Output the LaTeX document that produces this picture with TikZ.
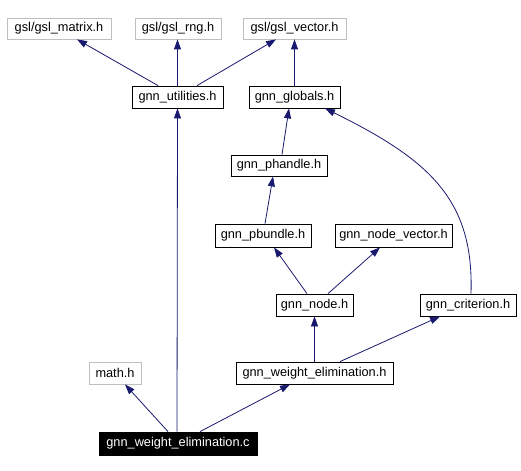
\documentclass[tikz,border=0pt]{standalone}
\usepackage{fontspec}
\setmainfont{Liberation Sans}
\usetikzlibrary{arrows.meta}
\definecolor{edgeblue}{RGB}{25,25,112}
\definecolor{extgray}{RGB}{191,191,191}
\begin{document}
\begin{tikzpicture}[x=1bp,y=-1bp,
  box/.style={draw=black,line width=0.8bp,inner sep=0pt,minimum height=22bp,font=\fontsize{12.8}{14}\selectfont,fill=white},
  ext/.style={box,draw=extgray},
  cur/.style={box,fill=black,text=white},
  dep/.style={draw=edgeblue,line width=0.8bp,-{Triangle[length=10bp,width=7bp]}}]
\useasboundingbox[fill=white] (0,0) rectangle (521,471);
\node[ext,minimum width=104bp,minimum height=21bp] (matrix) at (59,28.5) {gsl/gsl\_matrix.h};
\node[ext,minimum width=86bp,minimum height=21bp] (rng) at (178,28.5) {gsl/gsl\_rng.h};
\node[ext,minimum width=103bp,minimum height=21bp] (vector) at (294.5,28.5) {gsl/gsl\_vector.h};
\node[box,minimum width=91bp] (util) at (177.5,97) {gnn\_utilities.h};
\node[box,minimum width=91bp] (globals) at (294.5,97) {gnn\_globals.h};
\node[box,minimum width=96bp,minimum height=21bp] (phandle) at (279,165.5) {gnn\_phandle.h};
\node[box,minimum width=96bp,minimum height=23bp] (pbundle) at (263,235.5) {gnn\_pbundle.h};
\node[box,minimum width=117bp,minimum height=23bp] (nvec) at (393.5,235.5) {gnn\_node\_vector.h};
\node[box,minimum width=77bp] (gnode) at (314.5,305) {gnn\_node.h};
\node[box,minimum width=96bp] (crit) at (468,305) {gnn\_criterion.h};
\node[ext,minimum width=52bp] (math) at (115,373) {math.h};
\node[box,minimum width=157bp] (weh) at (314.5,373) {gnn\_weight\_elimination.h};
\node[cur,minimum width=158bp,minimum height=23bp] (wec) at (178,443.5) {gnn\_weight\_elimination.c};
\draw[dep] ([xshift=-19.5bp]util.north) -- ([xshift=18bp]matrix.south);
\draw[dep] (util.north) -- (util.north |- rng.south);
\draw[dep] ([xshift=19.5bp]util.north) -- ([xshift=-18.5bp]vector.south);
\draw[dep] (globals.north) -- (vector.south);
\draw[dep] ([xshift=3bp]phandle.north) -- ([xshift=-5.5bp]globals.south);
\draw[dep] ([xshift=2bp]pbundle.north) -- ([xshift=-6bp]phandle.south);
\draw[dep] ([xshift=-7.5bp]gnode.north) -- ([xshift=11bp]pbundle.south);
\draw[dep] ([xshift=13.5bp]gnode.north) -- ([xshift=-13.5bp]nvec.south);
\draw[dep] ([xshift=3bp]crit.north) .. controls (474,200) and (430,160) .. ([xshift=30.5bp]globals.south);
\draw[dep] (weh.north) -- (gnode.south);
\draw[dep] ([xshift=25.5bp]weh.north) -- ([xshift=-28bp]crit.south);
\draw[dep] ([xshift=-10bp]wec.north) -- ([xshift=10bp]math.south);
\draw[dep] ([xshift=-1bp]wec.north) -- (util.south);
\draw[dep] ([xshift=22bp]wec.north) -- ([xshift=-24.5bp]weh.south);
\end{tikzpicture}
\end{document}
